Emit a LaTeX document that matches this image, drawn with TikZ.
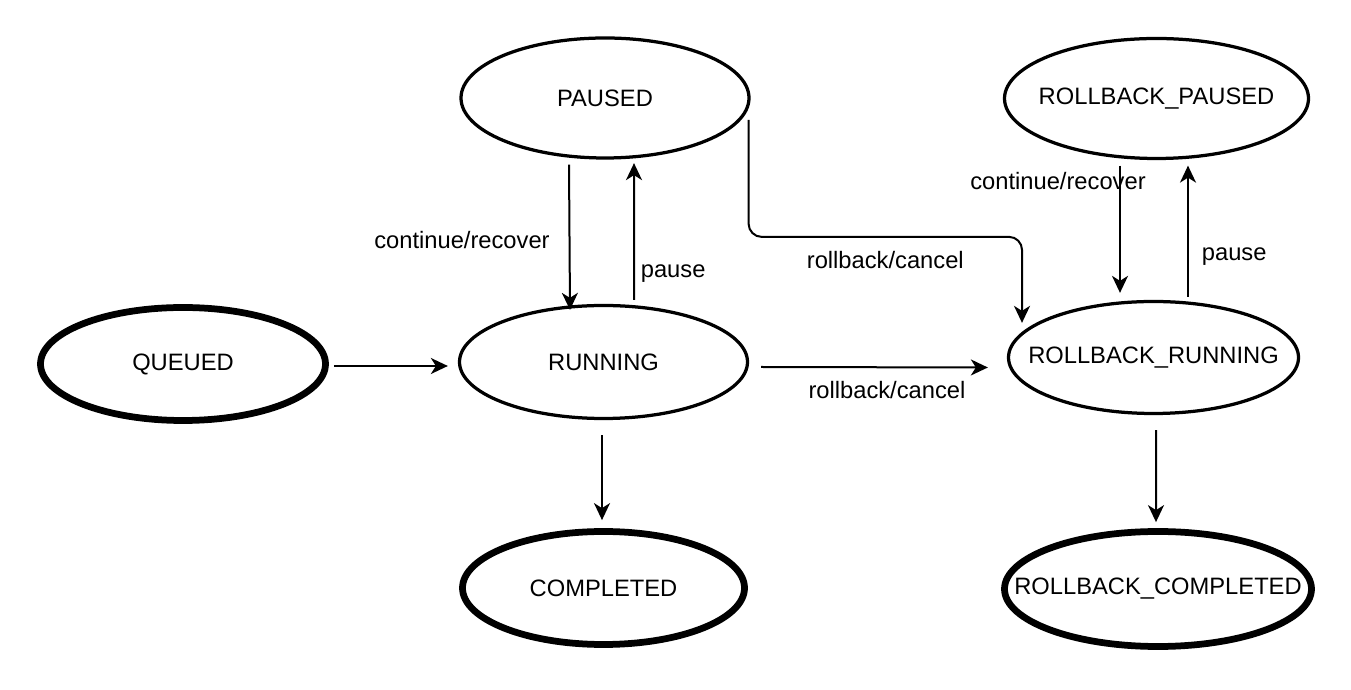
\documentclass[tikz,border=0pt]{standalone}
\usepackage{fontspec}
\setmainfont{Liberation Sans}
\usetikzlibrary{arrows.meta, shapes.geometric, calc}
\newcommand{\statetext}[1]{\makebox[0pt]{#1}}

\begin{document}
\begin{tikzpicture}[x=0.2mm, y=-0.2mm,
  every node/.style={font=\fontsize{13.5}{16}\selectfont},
  state/.style={ellipse, draw, line width=0.65mm, inner sep=0pt},
  donestate/.style={state, line width=1.35mm},
  arr/.style={-{Stealth[length=3.4mm, width=3.2mm, inset=1mm]}, line width=0.4mm}]
  % fundo e limites
  \path[fill=white] (0,0) rectangle (1351,690);
  % estados
  \node[donestate, minimum width=57mm, minimum height=22.6mm] (queued) at (183,364) {\statetext{QUEUED}};
  \node[state, minimum width=57.6mm, minimum height=24mm] (paused) at (605,98) {\statetext{PAUSED}};
  \node[state, minimum width=57.6mm, minimum height=22.6mm] (running) at (603.5,362) {\statetext{RUNNING}};
  \node[donestate, minimum width=56.4mm, minimum height=22.6mm] (completed) at (603.5,588) {\statetext{COMPLETED}};
  \node[state, minimum width=60.8mm, minimum height=24mm] (rbpaused) at (1156.5,98.5) {\statetext{ROLLBACK\_PAUSED}};
  \node[state, minimum width=58mm, minimum height=22.4mm] (rbrunning) at (1153.5,357.5) {\statetext{ROLLBACK\_RUNNING}};
  \node[donestate, minimum width=61.4mm, minimum height=23mm] (rbcompleted) at (1158,589) {\statetext{ROLLBACK\_COMPLETED}};
  % transicoes
  \draw[arr] ($(queued.east)+(5,2)$) -- ($(running.west)+(-10,4)$);
  \draw[arr] ($(running.east)+(12,5)$) -- node[pos=0.555, below=1.4mm] {rollback/cancel} ($(rbrunning.west)+(-19,10)$);
  \draw[arr] ($(running.south)+(-1.5,15)$) -- ($(completed.north)+(-1.5,-8)$);
  \draw[arr] ($(rbrunning.south)+(2.5,15)$) -- ($(rbcompleted.north)+(-2,-6)$);
  \draw[arr] ($(paused.south)+(-36,5)$) -- node[pos=0.52, left=2.6mm] {continue/recover} ($(running.north)+(-33.5,6)$);
  \draw[arr] ($(running.north)+(30.5,-4)$) -- node[pos=0.19, right] {pause} ($(paused.south)+(29,3.5)$);
  \draw[arr, rounded corners=2.6mm] ($(paused.east)+(-2,22)$) |- node[pos=0.75, below=1.6mm] {rollback/cancel} ($(rbrunning.north)+(-131.5,-63)$) -- ($(rbrunning.north)+(-131.5,23)$);
  \draw[arr] ($(rbpaused.south)+(-36.5,5.5)$) -- node[pos=0.12, xshift=-12.4mm] {continue/recover} ($(rbrunning.north)+(-33.5,-7)$);
  \draw[arr] ($(rbrunning.north)+(34.5,-3)$) -- node[pos=0.31, right=1.4mm] {pause} ($(rbpaused.south)+(31.5,5.5)$);
\end{tikzpicture}
\end{document}
